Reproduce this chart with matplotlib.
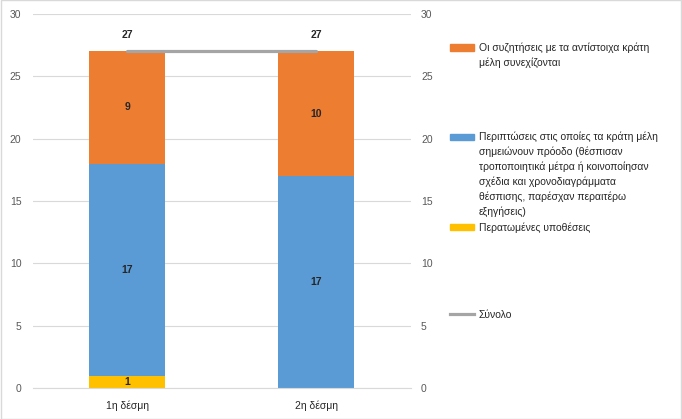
import numpy as np
import matplotlib.pyplot as plt
from matplotlib.patches import Patch
from matplotlib.lines import Line2D

plt.rcParams['font.family'] = ['Liberation Sans', 'DejaVu Sans']

categories = ['1η δέσμη', '2η δέσμη']
closed = [1, 0]          # Περατωμένες υποθέσεις
progress = [17, 17]      # Περιπτώσεις ... πρόοδο
ongoing = [9, 10]        # Οι συζητήσεις ... συνεχίζονται
totals = [27, 27]        # Σύνολο

lbl_ongoing = ['Οι συζητήσεις με τα αντίστοιχα κράτη', 'μέλη συνεχίζονται']
lbl_progress = ['Περιπτώσεις στις οποίες τα κράτη μέλη', 'σημειώνουν πρόοδο (θέσπισαν',
                'τροποποιητικά μέτρα ή κοινοποίησαν', 'σχέδια και χρονοδιαγράμματα',
                'θέσπισης, παρέσχαν περαιτέρω', 'εξηγήσεις)']
lbl_closed = ['Περατωμένες υποθέσεις']
lbl_total = ['Σύνολο']

c_yellow = '#FFC000'
c_blue = '#5B9BD5'
c_orange = '#ED7D31'
c_gray = '#A5A5A5'
tick_col = '#595959'

fig = plt.figure(figsize=(6.82, 4.19), dpi=100)
fig.patches.append(plt.Rectangle((0.001, 0.001), 0.998, 0.998, transform=fig.transFigure,
                                 fill=False, edgecolor='#D9D9D9', linewidth=1))
ax = fig.add_axes([0.0477, 0.074, 0.5543, 0.8926])

x = np.arange(len(categories))
w = 0.4
closed = np.array(closed)
progress = np.array(progress)
ongoing = np.array(ongoing)

ax.bar(x, closed, w, color=c_yellow, zorder=2)
ax.bar(x, progress, w, bottom=closed, color=c_blue, zorder=2)
ax.bar(x, ongoing, w, bottom=closed + progress, color=c_orange, zorder=2)
ax.plot(x, totals, color=c_gray, linewidth=2.3, solid_capstyle='round', zorder=3)

lab_kw = dict(ha='center', va='center', fontsize=7.5, color='#262626', fontweight='bold')
for i in range(len(x)):
    if closed[i] > 0:
        ax.text(x[i], closed[i] / 2, str(closed[i]), **lab_kw)
    ax.text(x[i], closed[i] + progress[i] / 2, str(progress[i]), **lab_kw)
    ax.text(x[i], closed[i] + progress[i] + ongoing[i] / 2, str(ongoing[i]), **lab_kw)
    ax.text(x[i], totals[i] + 1.3, str(totals[i]), **lab_kw)

ax.set_xlim(-0.5, 1.5)
ax.set_ylim(0, 30)
ax.set_yticks(range(0, 31, 5))
ax.set_xticks(x)
ax.set_xticklabels(categories, fontsize=7.5, color='#262626')
ax.grid(axis='y', color='#D9D9D9', linewidth=0.8, zorder=0)
ax.set_axisbelow(True)
for s in ax.spines.values():
    s.set_visible(False)
ax.spines['bottom'].set_visible(True)
ax.spines['bottom'].set_color('#D9D9D9')
ax.tick_params(axis='both', length=0, labelsize=7.5, colors=tick_col)
ax.tick_params(axis='x', pad=9, colors='#262626')
ax.tick_params(axis='y', pad=8)

ax2 = ax.twinx()
ax2.set_ylim(0, 30)
ax2.set_yticks(range(0, 31, 5))
for s in ax2.spines.values():
    s.set_visible(False)
ax2.tick_params(axis='y', length=0, labelsize=7.5, colors=tick_col, pad=7.5)

leg_kw = dict(frameon=False, fontsize=7.5, handlelength=2.3, handleheight=0.6,
              handletextpad=0.5, labelspacing=0.42, borderaxespad=0, borderpad=0,
              loc='upper left')
blank = Patch(visible=False)
entries = [
    (Patch(color=c_orange), lbl_ongoing, 0.898),
    (Patch(color=c_blue), lbl_progress, 0.685),
    (Patch(color=c_yellow), lbl_closed, 0.47),
    (Line2D([], [], color=c_gray, linewidth=2.3), lbl_total, 0.261),
]
for h, lines, yy in entries:
    handles = [h] + [blank] * (len(lines) - 1)
    lg = fig.legend(handles, lines, bbox_to_anchor=(0.6594, yy), **leg_kw)
    for t in lg.get_texts():
        t.set_color('#262626')

fig.savefig('out.png', dpi=100)
